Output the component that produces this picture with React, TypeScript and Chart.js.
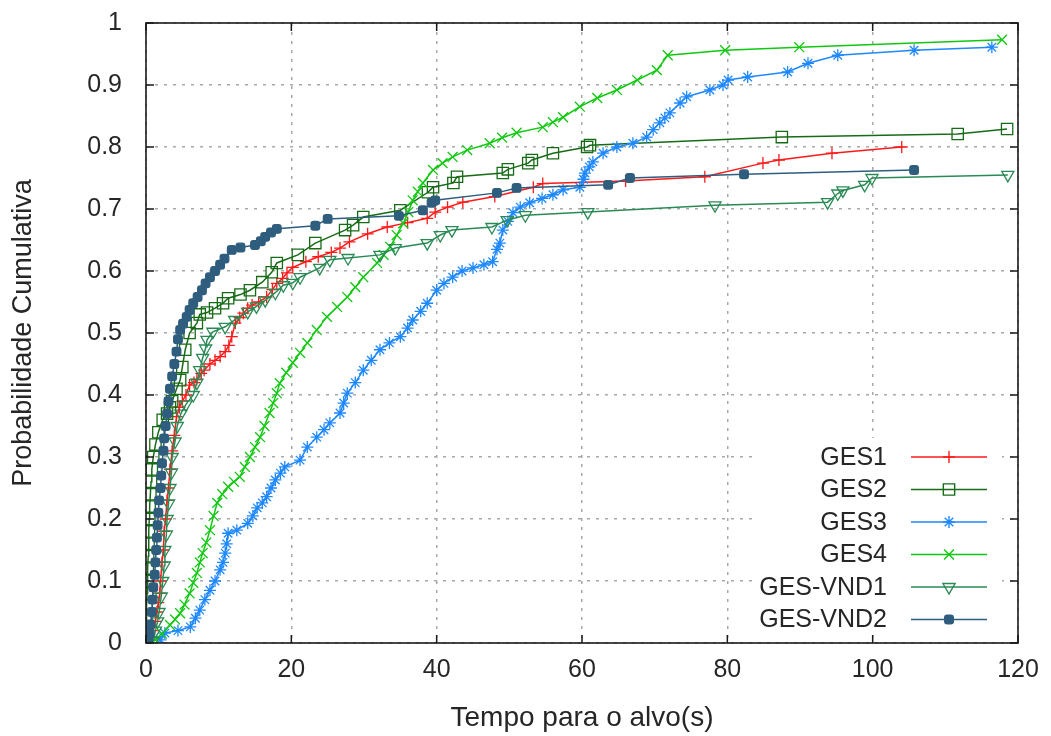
import React, { useEffect, useRef } from "react";
import { Chart, registerables } from "chart.js";
import { drawPoint } from "chart.js/helpers";

Chart.register(...registerables);

// ---------------- data ----------------
const xTickValues = [0, 20, 40, 60, 80, 100, 120];
const yTickValues = [0, 0.1, 0.2, 0.3, 0.4, 0.5, 0.6, 0.7, 0.8, 0.9, 1];

const seriesNames = ["GES1", "GES2", "GES3", "GES4", "GES-VND1", "GES-VND2"];
const seriesColors = ["#ff1a1a", "#176b17", "#1e88ff", "#10c810", "#2a8a55", "#2f5d7e"];

const ges1 = [
  [0.5, 0.005], [0.8, 0.01], [1.0, 0.02], [1.3, 0.035], [1.5, 0.05], [1.7, 0.065], [1.9, 0.08],
  [2.0, 0.1], [2.2, 0.13], [2.4, 0.15], [2.5, 0.18], [2.7, 0.2], [2.9, 0.23], [3.1, 0.25],
  [3.3, 0.28], [3.6, 0.31], [3.9, 0.335], [4.2, 0.365], [4.6, 0.38], [5.0, 0.39], [5.5, 0.4],
  [6.0, 0.416], [6.6, 0.42], [7.0, 0.425], [7.6, 0.435], [8.0, 0.44], [8.8, 0.45], [9.5, 0.456],
  [10.2, 0.462], [10.9, 0.47], [11.4, 0.48], [11.8, 0.494], [12.3, 0.516], [12.9, 0.525],
  [13.4, 0.532], [14.0, 0.54], [14.6, 0.545], [15.5, 0.55], [16.6, 0.558], [17.4, 0.57],
  [18.0, 0.58], [18.8, 0.588], [19.4, 0.597], [20.2, 0.606], [22.0, 0.615], [23.7, 0.623],
  [25.5, 0.63], [26.7, 0.637], [28.0, 0.647], [30.5, 0.66], [33.2, 0.671], [36.0, 0.678],
  [38.7, 0.685], [39.8, 0.695], [41.5, 0.703], [43.6, 0.711], [48.0, 0.72], [53.3, 0.735],
  [54.6, 0.741], [66.0, 0.745], [76.9, 0.752], [84.9, 0.774], [87.1, 0.779], [94.4, 0.79],
  [104.0, 0.8],
];

const ges2 = [
  [0.0, 0.02], [0.05, 0.04], [0.1, 0.06], [0.15, 0.08], [0.2, 0.1], [0.25, 0.12], [0.3, 0.14],
  [0.35, 0.16], [0.4, 0.18], [0.45, 0.2], [0.5, 0.22], [0.6, 0.24], [0.7, 0.26], [0.8, 0.28],
  [1.0, 0.3], [1.3, 0.32], [1.7, 0.34], [2.3, 0.36], [2.9, 0.37], [3.3, 0.38], [3.6, 0.39],
  [4.2, 0.41], [4.7, 0.424], [5.0, 0.445], [5.4, 0.473], [6.0, 0.5], [7.0, 0.516], [7.4, 0.53],
  [8.4, 0.533], [9.5, 0.54], [10.6, 0.548], [11.3, 0.556], [13.0, 0.562], [14.3, 0.569],
  [16.0, 0.582], [17.3, 0.598], [18.0, 0.613], [20.9, 0.626], [23.3, 0.645], [27.4, 0.666],
  [28.5, 0.674], [29.9, 0.687], [35.0, 0.698], [38.8, 0.727], [39.5, 0.735], [42.3, 0.742],
  [42.8, 0.752], [49.1, 0.758], [49.8, 0.764], [52.6, 0.774], [53.1, 0.779], [56.0, 0.79],
  [60.7, 0.8], [61.1, 0.803], [87.5, 0.816], [111.7, 0.821], [118.5, 0.829],
];

const ges3 = [
  [2.0, 0.005], [2.6, 0.016], [4.4, 0.02], [6.1, 0.026], [6.8, 0.04], [7.4, 0.053], [8.1, 0.07],
  [8.8, 0.085], [9.5, 0.1], [10.2, 0.118], [10.6, 0.13], [10.9, 0.145], [11.1, 0.16],
  [11.3, 0.177], [12.5, 0.182], [14.0, 0.193], [14.7, 0.205], [15.3, 0.218], [16.0, 0.226],
  [16.6, 0.236], [17.2, 0.25], [17.8, 0.263], [18.5, 0.274], [19.1, 0.284], [21.2, 0.295],
  [22.2, 0.316], [23.5, 0.332], [24.5, 0.344], [25.3, 0.355], [26.7, 0.371], [27.2, 0.387],
  [27.7, 0.403], [28.8, 0.42], [29.9, 0.44], [31.0, 0.456], [32.2, 0.473], [33.5, 0.484],
  [35.0, 0.494], [36.0, 0.508], [36.7, 0.521], [37.8, 0.535], [38.7, 0.548], [40.0, 0.569],
  [41.0, 0.58], [42.2, 0.59], [43.5, 0.6], [45.0, 0.605], [46.5, 0.61], [47.7, 0.615],
  [48.3, 0.635], [48.7, 0.645], [49.1, 0.666], [49.8, 0.68], [50.5, 0.694], [51.5, 0.703],
  [52.8, 0.71], [54.5, 0.717], [56.0, 0.723], [57.4, 0.731], [59.7, 0.735], [60.2, 0.748],
  [60.4, 0.758], [61.0, 0.768], [61.5, 0.776], [62.9, 0.79], [64.8, 0.8], [67.0, 0.806],
  [68.9, 0.816], [69.8, 0.828], [70.7, 0.839], [71.4, 0.847], [72.1, 0.855], [73.5, 0.871],
  [74.4, 0.881], [77.6, 0.892], [79.4, 0.9], [80.1, 0.908], [82.8, 0.913], [88.3, 0.921],
  [91.1, 0.935], [95.2, 0.948], [105.7, 0.956], [116.4, 0.961],
];

const ges4 = [
  [1.3, 0.005], [2.2, 0.015], [3.3, 0.029], [4.0, 0.038], [4.7, 0.048], [5.3, 0.062], [6.0, 0.08],
  [6.5, 0.097], [7.0, 0.113], [7.4, 0.13], [7.8, 0.145], [8.3, 0.162], [8.8, 0.182], [9.3, 0.205],
  [9.8, 0.226], [10.5, 0.24], [11.3, 0.252], [12.1, 0.26], [12.9, 0.268], [13.6, 0.284],
  [14.3, 0.3], [15.0, 0.316], [15.7, 0.332], [16.3, 0.35], [17.0, 0.371], [17.5, 0.387],
  [18.0, 0.403], [18.4, 0.419], [19.3, 0.436], [20.2, 0.452], [21.2, 0.468], [22.2, 0.484],
  [23.5, 0.505], [24.9, 0.526], [26.3, 0.542], [27.7, 0.558], [28.8, 0.574], [29.9, 0.59],
  [31.8, 0.613], [32.7, 0.626], [33.6, 0.639], [34.5, 0.658], [35.4, 0.677], [36.1, 0.695],
  [36.7, 0.714], [37.4, 0.728], [38.1, 0.742], [39.5, 0.763], [40.8, 0.774], [42.2, 0.784],
  [44.2, 0.795], [47.3, 0.806], [49.0, 0.815], [51.0, 0.823], [54.6, 0.832], [56.0, 0.84],
  [57.4, 0.848], [59.7, 0.865], [62.1, 0.879], [64.8, 0.892], [67.6, 0.908], [70.3, 0.924],
  [71.8, 0.948], [79.7, 0.956], [89.9, 0.961], [117.8, 0.973],
];

const gesVnd1 = [
  [1.0, 0.003], [1.3, 0.02], [1.6, 0.035], [1.8, 0.05], [2.1, 0.075], [2.3, 0.1], [2.5, 0.125],
  [2.6, 0.15], [2.8, 0.175], [2.9, 0.2], [3.1, 0.225], [3.3, 0.25], [3.5, 0.275], [3.6, 0.3],
  [4.0, 0.325], [4.3, 0.35], [4.8, 0.37], [5.5, 0.385], [6.5, 0.4], [7.0, 0.42], [7.4, 0.44],
  [7.8, 0.46], [8.2, 0.475], [8.4, 0.489], [9.2, 0.502], [10.9, 0.51], [12.2, 0.521],
  [14.0, 0.534], [15.2, 0.543], [16.4, 0.553], [17.8, 0.565], [18.9, 0.577], [20.2, 0.581],
  [21.2, 0.59], [23.9, 0.605], [25.3, 0.618], [27.8, 0.621], [32.2, 0.626], [34.3, 0.637],
  [38.7, 0.645], [40.5, 0.658], [42.1, 0.666], [47.6, 0.671], [49.7, 0.682], [52.2, 0.69],
  [60.8, 0.695], [78.3, 0.706], [93.8, 0.711], [95.2, 0.725], [95.9, 0.73], [98.9, 0.739],
  [99.9, 0.75], [118.6, 0.755],
];

const gesVnd2 = [
  [0.3, 0.005], [0.5, 0.015], [0.6, 0.03], [0.8, 0.05], [0.9, 0.07], [1.0, 0.09], [1.2, 0.11],
  [1.3, 0.13], [1.4, 0.15], [1.5, 0.17], [1.6, 0.19], [1.7, 0.21], [1.8, 0.23], [2.0, 0.25],
  [2.1, 0.27], [2.2, 0.29], [2.4, 0.31], [2.5, 0.33], [2.7, 0.35], [2.9, 0.37], [3.1, 0.39],
  [3.3, 0.41], [3.6, 0.43], [3.9, 0.45], [4.2, 0.47], [4.4, 0.49], [4.7, 0.505], [5.1, 0.515],
  [5.6, 0.526], [6.0, 0.537], [6.5, 0.548], [7.1, 0.558], [7.7, 0.569], [8.2, 0.58], [8.8, 0.59],
  [9.5, 0.6], [10.2, 0.61], [10.8, 0.62], [11.8, 0.634], [13.0, 0.638], [15.0, 0.642],
  [15.8, 0.648], [16.4, 0.655], [17.2, 0.662], [18.0, 0.668], [23.3, 0.673], [25.0, 0.684],
  [34.8, 0.689], [38.1, 0.698], [39.3, 0.71], [39.8, 0.714], [48.3, 0.726], [51.0, 0.734],
  [63.6, 0.739], [66.6, 0.75], [82.3, 0.756], [105.7, 0.763],
];

const seriesData = [ges1, ges2, ges3, ges4, gesVnd1, gesVnd2];

// ---------------- styles ----------------
const pointStyles = ["cross", "rect", "star", "crossRot", "triangle", "rectRounded"];
const pointRadii = [6, 8, 6, 7, 7, 5];
const pointRotations = [0, 0, 0, 0, 180, 0];
const pointFills = ["rgba(0,0,0,0)", "rgba(0,0,0,0)", "rgba(0,0,0,0)", "rgba(0,0,0,0)", "rgba(0,0,0,0)", "#2f5d7e"];

const FONT = "'Liberation Sans', Arial, sans-serif";
const TEXT = "#262626";

const framePlugin = {
  id: "gnuFrame",
  afterDraw(chart: any) {
    const { ctx, chartArea: a, scales } = chart;
    ctx.save();
    // legend box
    ctx.fillStyle = "#ffffff";
    ctx.fillRect(a.right - 262, a.bottom - 205, 246, 197);
    const rowY0 = a.bottom - 186;
    const rowGap = 32.5;
    ctx.font = "25px " + FONT;
    ctx.textAlign = "right";
    ctx.textBaseline = "middle";
    seriesNames.forEach((name, i) => {
      const y = rowY0 + i * rowGap;
      ctx.fillStyle = TEXT;
      ctx.fillText(name, a.right - 131, y + 1);
      ctx.strokeStyle = seriesColors[i];
      ctx.lineWidth = 1.5;
      ctx.beginPath();
      ctx.moveTo(a.right - 107, y);
      ctx.lineTo(a.right - 31, y);
      ctx.stroke();
      ctx.fillStyle = pointFills[i];
      ctx.strokeStyle = seriesColors[i];
      ctx.lineWidth = 1.4;
      drawPoint(ctx, {
        pointStyle: pointStyles[i],
        radius: pointRadii[i],
        rotation: pointRotations[i],
        borderWidth: 1.4,
      } as any, a.right - 69, y);
    });
    // inward ticks
    ctx.strokeStyle = "#1a1a1a";
    ctx.lineWidth = 1.5;
    ctx.beginPath();
    for (const v of xTickValues) {
      const px = scales.x.getPixelForValue(v);
      ctx.moveTo(px, a.bottom);
      ctx.lineTo(px, a.bottom - 8);
      ctx.moveTo(px, a.top);
      ctx.lineTo(px, a.top + 8);
    }
    for (const v of yTickValues) {
      const py = scales.y.getPixelForValue(v);
      ctx.moveTo(a.left, py);
      ctx.lineTo(a.left + 8, py);
      ctx.moveTo(a.right, py);
      ctx.lineTo(a.right - 8, py);
    }
    ctx.stroke();
    ctx.lineWidth = 1.6;
    ctx.strokeRect(a.left, a.top, a.right - a.left, a.bottom - a.top);
    ctx.restore();
  },
};

export default function App() {
  const canvasRef = useRef<HTMLCanvasElement | null>(null);

  useEffect(() => {
    if (!canvasRef.current) return;
    const chart = new Chart(canvasRef.current, {
      type: "scatter",
      data: {
        datasets: seriesNames.map((name, i) => ({
          label: name,
          data: seriesData[i].map(([x, y]) => ({ x, y })),
          showLine: true,
          borderColor: seriesColors[i],
          backgroundColor: pointFills[i],
          borderWidth: 1.5,
          pointStyle: pointStyles[i] as any,
          pointRadius: pointRadii[i],
          pointRotation: pointRotations[i],
          pointBorderColor: seriesColors[i],
          pointBackgroundColor: pointFills[i],
          pointBorderWidth: 1.3,
          pointHoverRadius: pointRadii[i],
          tension: 0,
          order: 5 - i,
        })),
      },
      options: {
        animation: false,
        responsive: false,
        devicePixelRatio: 1,
        layout: { autoPadding: false, padding: { top: 23, right: 33, left: 0, bottom: 0 } },
        plugins: { legend: { display: false }, tooltip: { enabled: false } },
        scales: {
          x: {
            type: "linear",
            min: 0,
            max: 120,
            afterFit: (s: any) => {
              s.height = 93;
              s.paddingLeft = 0;
              s.paddingRight = 0;
              s.paddingTop = 0;
              s.paddingBottom = 0;
            },
            afterBuildTicks: (s: any) => { s.ticks = xTickValues.map((v) => ({ value: v })); },
            ticks: {
              padding: 12,
              color: TEXT,
              font: { family: FONT, size: 25 },
              callback: (v: any) => String(v),
            },
            grid: { color: "#a8a8a8", lineWidth: 1.5, drawTicks: false },
            border: { display: false, dash: [3, 6] },
            title: {
              display: true,
              text: "Tempo para o alvo(s)",
              color: TEXT,
              font: { family: FONT, size: 28, lineHeight: 1.2 },
              padding: { top: 0, bottom: 1 },
            },
          },
          y: {
            type: "linear",
            min: 0,
            max: 1,
            afterFit: (s: any) => {
              s.width = 146;
              s.paddingLeft = 0;
              s.paddingRight = 0;
              s.paddingTop = 0;
              s.paddingBottom = 0;
            },
            afterBuildTicks: (s: any) => { s.ticks = yTickValues.map((v) => ({ value: v })); },
            ticks: {
              padding: 24,
              color: TEXT,
              font: { family: FONT, size: 25 },
              callback: (v: any) => String(Math.round(v * 10) / 10),
            },
            grid: { color: "#a8a8a8", lineWidth: 1.5, drawTicks: false },
            border: { display: false, dash: [3, 6] },
            title: {
              display: true,
              text: "Probabilidade Cumulativa",
              color: TEXT,
              font: { family: FONT, size: 27, lineHeight: 1.2 },
              padding: { top: 7, bottom: 7 },
            },
          },
        },
      },
      plugins: [framePlugin],
    });
    return () => chart.destroy();
  }, []);

  return (
    <div style={{ position: "absolute", left: 0, top: 0, width: 1051, height: 736, background: "#fff" }}>
      <canvas ref={canvasRef} width={1051} height={736} style={{ display: "block", width: 1051, height: 736 }} />
    </div>
  );
}
